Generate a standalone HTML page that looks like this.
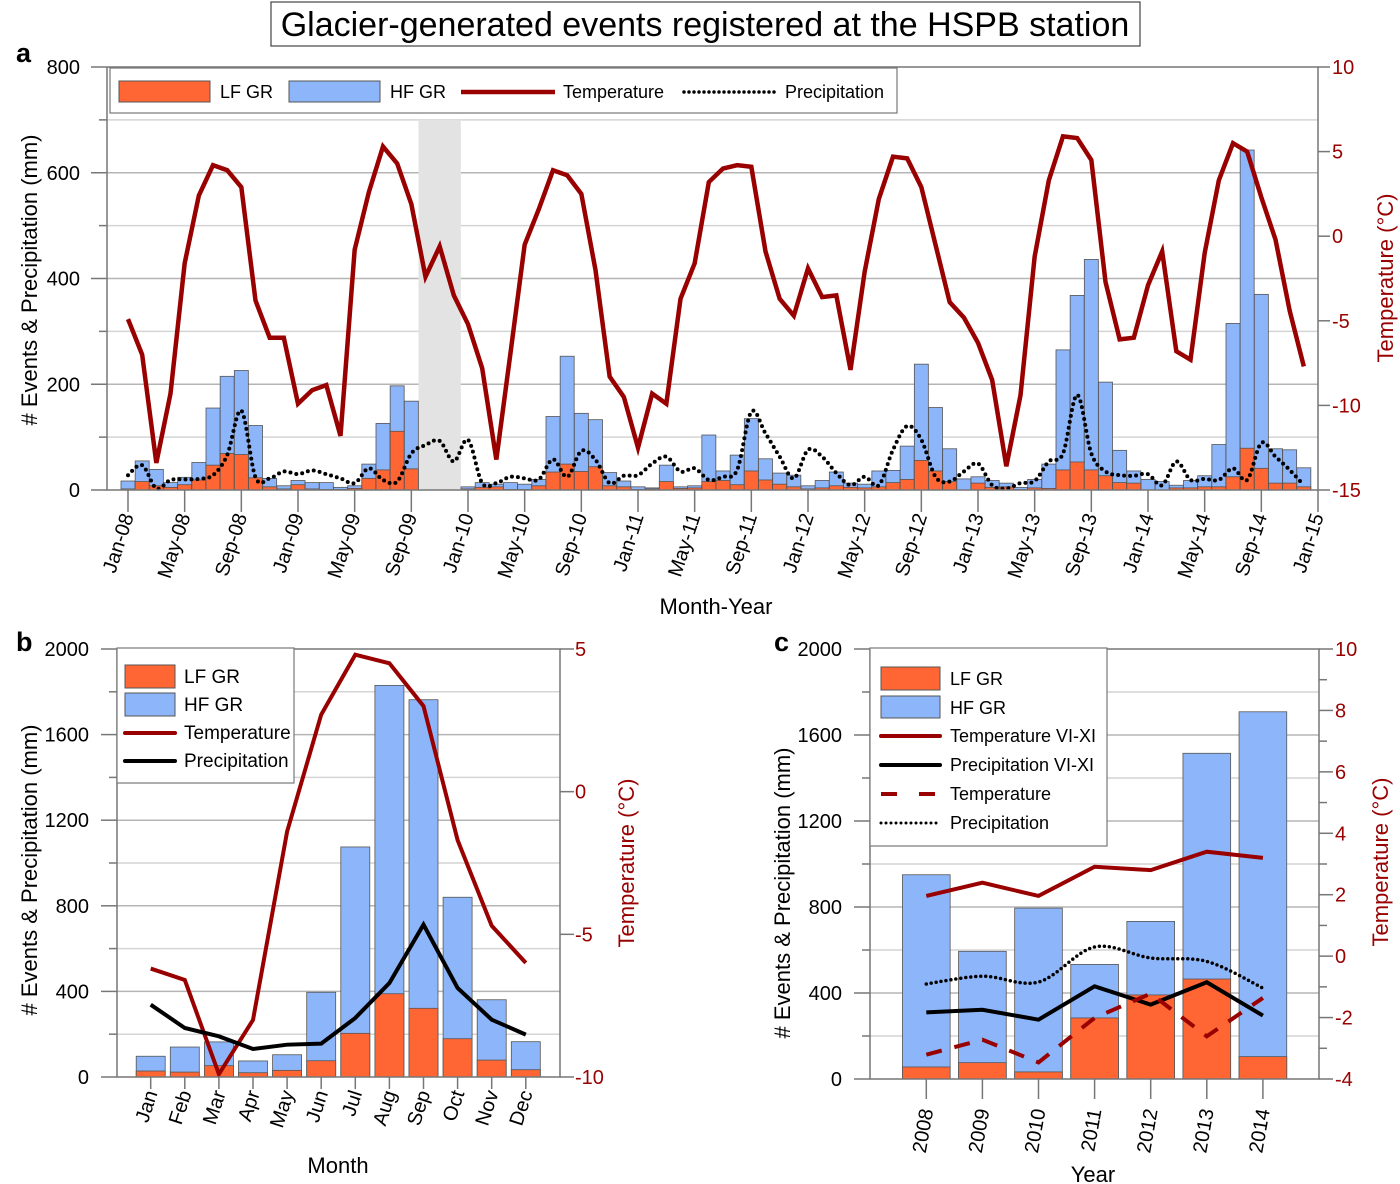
<!DOCTYPE html>
<html><head><meta charset="utf-8"><style>
body{margin:0;background:#fff;}
svg{display:block;font-family:"Liberation Sans",Arial,sans-serif;}
</style></head><body>
<svg id="svg" width="1400" height="1184" viewBox="0 0 1400 1184" xmlns="http://www.w3.org/2000/svg">
<rect x="271" y="2" width="869" height="44" fill="#fff" stroke="#444" stroke-width="1.2"/>
<text x="705" y="36" font-size="34" text-anchor="middle">Glacier-generated events registered at the HSPB station</text>
<text x="16" y="62" font-size="27" font-weight="bold">a</text>
<text x="16" y="651" font-size="27" font-weight="bold">b</text>
<text x="774" y="651" font-size="27" font-weight="bold">c</text>
<g id="ga"></g>
<g id="gb"></g>
<g id="gc"></g>
</svg>
<script>
// ---- Panel a data (Jan-08 .. Dec-14) ----
const monthTickLabels = ["Jan-08","May-08","Sep-08","Jan-09","May-09","Sep-09","Jan-10","May-10","Sep-10","Jan-11","May-11","Sep-11","Jan-12","May-12","Sep-12","Jan-13","May-13","Sep-13","Jan-14","May-14","Sep-14","Jan-15"];
const totalEventsA = [17,55,39,14,24,52,155,215,226,122,22,8, 18,14,14,5,8,49,126,197,168,0,0,0, 6,14,11,14,11,20,139,253,145,133,33,17, 6,4,47,6,8,104,36,66,135,59,32,28, 8,18,34,13,11,36,37,83,238,156,78,21, 25,18,13,5,20,49,265,368,436,204,75,36, 20,16,9,18,27,86,315,643,370,78,76,42];
const lfEventsA = [2,16,8,5,10,19,47,69,67,23,6,2, 10,2,1,1,3,22,38,111,40,0,0,0, 2,5,6,1,1,8,34,49,35,44,8,6, 1,2,16,3,4,16,18,10,36,19,11,6, 2,4,8,5,4,6,14,20,56,36,16,0, 13,5,6,1,4,3,38,53,38,27,14,13, 0,0,4,4,6,6,25,79,41,13,13,6];
const temperatureA = [-4.9,-7.0,-13.4,-9.3,-1.6,2.4,4.2,3.9,2.9,-3.8,-6.0,-6.0, -9.9,-9.1,-8.8,-11.8,-0.8,2.6,5.3,4.3,1.9,-2.4,-0.6,-3.5, -5.2,-7.8,-13.2,-6.9,-0.5,1.6,3.9,3.6,2.5,-2.0,-8.3,-9.5, -12.5,-9.3,-9.9,-3.7,-1.6,3.2,4.0,4.2,4.1,-0.9,-3.7,-4.7, -1.9,-3.6,-3.5,-7.9,-2.1,2.2,4.7,4.6,2.9,-0.5,-3.9,-4.8, -6.3,-8.5,-13.6,-9.4,-1.2,3.3,5.9,5.8,4.5,-2.7,-6.1,-6.0, -2.9,-0.9,-6.8,-7.3,-1.0,3.3,5.5,5.0,2.3,-0.2,-4.4,-7.7];
const precipitationA = [28,47,3,19,20,21,28,66,150,24,22,35, 30,37,30,22,13,41,19,16,69,85,93,54, 95,13,13,25,22,20,58,25,74,57,13,27, 28,50,63,35,41,19,25,38,148,107,63,22, 76,63,32,9,25,9,76,121,95,25,16,35, 50,9,3,13,17,54,69,180,69,35,28,27, 30,9,54,19,21,19,41,19,89,63,38,9];
const gapMonths = [21,22,23];
const leftTicksA = [0,200,400,600,800];
const rightTicksA = [-15,-10,-5,0,5,10];
// ---- Panel b data ----
const monthsB = ["Jan","Feb","Mar","Apr","May","Jun","Jul","Aug","Sep","Oct","Nov","Dec"];
const totalEventsB = [97,140,164,75,104,396,1075,1830,1763,840,361,165];
const lfEventsB = [28,23,53,20,31,76,204,389,321,179,79,34];
const temperatureB = [-6.2,-6.6,-9.9,-8.0,-1.4,2.7,4.8,4.5,3.0,-1.7,-4.7,-6.0];
const precipitationB = [338,229,190,131,151,156,276,439,712,416,268,198];
const leftTicksB = [0,400,800,1200,1600,2000];
const rightTicksB = [-10,-5,0,5];
// ---- Panel c data ----
const yearsC = ["2008","2009","2010","2011","2012","2013","2014"];
const totalEventsC = [950,594,795,533,733,1515,1708];
const lfEventsC = [56,76,33,284,391,465,104];
const tempSummerC = [1.96,2.39,1.96,2.91,2.80,3.40,3.20];
const precipSummerC = [310,322,276,431,346,450,295];
const tempYearC = [-3.21,-2.72,-3.46,-2.01,-1.22,-2.61,-1.36];
const precipYearC = [442,478,451,614,563,547,423];
const leftTicksC = [0,400,800,1200,1600,2000];
const rightTicksC = [-4,-2,0,2,4,6,8,10];

const NS="http://www.w3.org/2000/svg";
const ORANGE="#ff6633", BLUE="#8db5f9", RED="#990000", GRID="#b5b5b5";
function mk(parent,tag,attrs,txt){const e=document.createElementNS(NS,tag);for(const k in attrs)e.setAttribute(k,attrs[k]);if(txt!==undefined)e.textContent=txt;parent.appendChild(e);return e;}
function smoothPath(pts){let d="M"+pts[0][0]+","+pts[0][1];for(let i=0;i<pts.length-1;i++){const p0=pts[Math.max(i-1,0)],p1=pts[i],p2=pts[i+1],p3=pts[Math.min(i+2,pts.length-1)];const c1x=p1[0]+(p2[0]-p0[0])/6,c1y=p1[1]+(p2[1]-p0[1])/6,c2x=p2[0]-(p3[0]-p1[0])/6,c2y=p2[1]-(p3[1]-p1[1])/6;d+=" C"+c1x+","+c1y+" "+c2x+","+c2y+" "+p2[0]+","+p2[1];}return d;}
function linePath(pts){return pts.map((p,i)=>(i?"L":"M")+p[0]+","+p[1]).join(" ");}

// ================= Panel a =================
(function(){
const g=document.getElementById("ga");
const L=107,R=1318,B=490,T=67;
const x=i=>128+i*((R-128)/84);
const y=v=>B-(v/800)*(B-T);
const yt=t=>B-((t+15)/25)*(B-T);
const bw=14;
// grid
for(let v=100;v<=700;v+=100){const l=mk(g,"line",{x1:L,x2:R,y1:y(v),y2:y(v),stroke:v%200?"#d4d4d4":GRID,"stroke-width":1.5});

}
// gap band
const gb=mk(g,"rect",{x:x(gapMonths[0])-bw/2,y:y(700),width:x(gapMonths[gapMonths.length-1])-x(gapMonths[0])+bw,height:B-y(700),fill:"#e3e3e3"});


// bars
totalEventsA.forEach((v,i)=>{
 const b=mk(g,"rect",{x:x(i)-bw/2,y:y(v),width:bw,height:B-y(v),fill:BLUE,stroke:"#555","stroke-width":0.8});
 
 
 const o=mk(g,"rect",{x:x(i)-bw/2,y:y(lfEventsA[i]),width:bw,height:B-y(lfEventsA[i]),fill:ORANGE,stroke:"#555","stroke-width":0.8});
 
 
});
// temperature
const tp=mk(g,"path",{d:linePath(temperatureA.map((t,i)=>[x(i),yt(t)])),fill:"none",stroke:RED,"stroke-width":4.5,"stroke-linejoin":"miter"});


const pp=mk(g,"path",{d:smoothPath(precipitationA.map((p,i)=>[x(i),y(p)])),fill:"none",stroke:"#000","stroke-width":4,"stroke-dasharray":"0 6","stroke-linecap":"round"});


// axes
const ax=mk(g,"path",{d:`M${L},${T} L${L},${B} L${R},${B} L${R},${T} L${L},${T}`,fill:"none",stroke:"#777","stroke-width":1.5});


for(let v=0;v<=800;v+=100){const t=mk(g,"line",{x1:L-(v%200?8:16),x2:L,y1:y(v),y2:y(v),stroke:"#777","stroke-width":1.5});

}
leftTicksA.forEach(v=>{const t=mk(g,"text",{x:80,y:y(v)+7,"font-size":20,"text-anchor":"end"},String(v));

});
rightTicksA.forEach(v=>{const l=mk(g,"line",{x1:R,x2:R+12,y1:yt(v),y2:yt(v),stroke:"#777","stroke-width":1.5});


const t=mk(g,"text",{x:R+14,y:yt(v)+7,"font-size":20,fill:RED},String(v));

});
monthTickLabels.forEach((s,k)=>{const xx=x(k*4);
const l=mk(g,"line",{x1:xx,x2:xx,y1:B,y2:B+22,stroke:"#777","stroke-width":1.5});


const t=mk(g,"text",{x:0,y:0,"font-size":20,"text-anchor":"end",transform:`translate(${xx+6},${B+26}) rotate(-72)`},s);

});
const xt=mk(g,"text",{x:716,y:614,"font-size":22,"text-anchor":"middle"},"Month-Year");


const yl=mk(g,"text",{x:0,y:0,"font-size":22,"text-anchor":"middle",transform:"translate(37,280) rotate(-90)"},"# Events & Precipitation (mm)");


const yr=mk(g,"text",{x:0,y:0,"font-size":22,"text-anchor":"middle",fill:RED,transform:"translate(1393,278) rotate(-90)"},"Temperature (°C)");


// legend
const lg=mk(g,"g",{});


mk(lg,"rect",{x:110,y:68,width:787,height:45,fill:"#fff",stroke:"#777","stroke-width":1.2});
const s1=mk(lg,"rect",{x:119,y:81,width:91,height:21,fill:ORANGE,stroke:"#555"});


mk(lg,"text",{x:220,y:98,"font-size":18},"LF GR");
const s2=mk(lg,"rect",{x:289,y:81,width:91,height:21,fill:BLUE,stroke:"#555"});


mk(lg,"text",{x:390,y:98,"font-size":18},"HF GR");
const s3=mk(lg,"line",{x1:461,x2:555,y1:92,y2:92,stroke:RED,"stroke-width":4.5});


mk(lg,"text",{x:563,y:98,"font-size":18},"Temperature");
const s4=mk(lg,"line",{x1:684,x2:775,y1:92,y2:92,stroke:"#000","stroke-width":3.5,"stroke-dasharray":"0 5","stroke-linecap":"round"});


mk(lg,"text",{x:785,y:98,"font-size":18},"Precipitation");
})();

// ================= Panel b =================
(function(){
const g=document.getElementById("gb");
const L=117,R=560,B=1077,T=649;
const step=34.1, bw=29;
const x=i=>150.7+i*step;
const y=v=>B-(v/2000)*(B-T);
const yt=t=>B-((t+10)/15)*(B-T);
for(let v=200;v<2000;v+=200){const l=mk(g,"line",{x1:L,x2:R,y1:y(v),y2:y(v),stroke:v%400?"#d4d4d4":GRID,"stroke-width":1.5});

}
totalEventsB.forEach((v,i)=>{
 const b=mk(g,"rect",{x:x(i)-bw/2,y:y(v),width:bw,height:B-y(v),fill:BLUE,stroke:"#555","stroke-width":0.8});
 
 
 const o=mk(g,"rect",{x:x(i)-bw/2,y:y(lfEventsB[i]),width:bw,height:B-y(lfEventsB[i]),fill:ORANGE,stroke:"#555","stroke-width":0.8});
 
 
});
const tp=mk(g,"path",{d:linePath(temperatureB.map((t,i)=>[x(i),yt(t)])),fill:"none",stroke:RED,"stroke-width":4});


const pp=mk(g,"path",{d:linePath(precipitationB.map((p,i)=>[x(i),y(p)])),fill:"none",stroke:"#000","stroke-width":4});


const ax=mk(g,"path",{d:`M${L},${T} L${L},${B} L${R},${B} L${R},${T} L${L},${T}`,fill:"none",stroke:"#777","stroke-width":1.5});


for(let v=0;v<=2000;v+=200){const t=mk(g,"line",{x1:L-(v%400?8:16),x2:L,y1:y(v),y2:y(v),stroke:"#777","stroke-width":1.5});

}
leftTicksB.forEach(v=>{const t=mk(g,"text",{x:89,y:y(v)+7,"font-size":20,"text-anchor":"end"},String(v));

});
rightTicksB.forEach(v=>{const l=mk(g,"line",{x1:R,x2:R+14,y1:yt(v),y2:yt(v),stroke:"#777","stroke-width":1.5});


const t=mk(g,"text",{x:R+15,y:yt(v)+7,"font-size":20,fill:RED},String(v));

});
monthsB.forEach((s,i)=>{const xx=x(i);
const l=mk(g,"line",{x1:xx,x2:xx,y1:B,y2:B+12,stroke:"#777","stroke-width":1.5});


const t=mk(g,"text",{x:0,y:0,"font-size":20,"text-anchor":"end",transform:`translate(${xx+7},${B+16}) rotate(-72)`},s);

});
const xt=mk(g,"text",{x:338,y:1173,"font-size":22,"text-anchor":"middle"},"Month");


const yl=mk(g,"text",{x:0,y:0,"font-size":22,"text-anchor":"middle",transform:"translate(37,870) rotate(-90)"},"# Events & Precipitation (mm)");


const yr=mk(g,"text",{x:0,y:0,"font-size":22,"text-anchor":"middle",fill:RED,transform:"translate(634,863) rotate(-90)"},"Temperature (°C)");


const lg=mk(g,"g",{});


mk(lg,"rect",{x:117,y:648,width:177,height:135,fill:"#fff",stroke:"#777","stroke-width":1.2});
const a1=mk(lg,"rect",{x:125,y:665,width:50,height:23,fill:ORANGE,stroke:"#555"});


mk(lg,"text",{x:184,y:683,"font-size":19},"LF GR");
const a2=mk(lg,"rect",{x:125,y:693,width:50,height:23,fill:BLUE,stroke:"#555"});


mk(lg,"text",{x:184,y:711,"font-size":19},"HF GR");
const a3=mk(lg,"line",{x1:125,x2:175,y1:733,y2:733,stroke:RED,"stroke-width":4,"stroke-linecap":"round"});


mk(lg,"text",{x:184,y:739,"font-size":19},"Temperature");
const a4=mk(lg,"line",{x1:125,x2:175,y1:761,y2:761,stroke:"#000","stroke-width":4,"stroke-linecap":"round"});


mk(lg,"text",{x:184,y:767,"font-size":19},"Precipitation");
})();

// ================= Panel c =================
(function(){
const g=document.getElementById("gc");
const L=870,R=1319,B=1079,T=649;
const step=56.1,bw=47.7;
const x=i=>926.3+i*step;
const y=v=>B-(v/2000)*(B-T);
const yt=t=>B-((t+4)/14)*(B-T);
for(let v=200;v<2000;v+=200){const l=mk(g,"line",{x1:L,x2:R,y1:y(v),y2:y(v),stroke:v%400?"#d4d4d4":GRID,"stroke-width":1.5});

}
totalEventsC.forEach((v,i)=>{
 const b=mk(g,"rect",{x:x(i)-bw/2,y:y(v),width:bw,height:B-y(v),fill:BLUE,stroke:"#555","stroke-width":0.8});
 
 
 const o=mk(g,"rect",{x:x(i)-bw/2,y:y(lfEventsC[i]),width:bw,height:B-y(lfEventsC[i]),fill:ORANGE,stroke:"#555","stroke-width":0.8});
 
 
});
const l1=mk(g,"path",{d:linePath(tempSummerC.map((t,i)=>[x(i),yt(t)])),fill:"none",stroke:RED,"stroke-width":4});


const l2=mk(g,"path",{d:linePath(precipSummerC.map((p,i)=>[x(i),y(p)])),fill:"none",stroke:"#000","stroke-width":4});


const l3=mk(g,"path",{d:linePath(tempYearC.map((t,i)=>[x(i),yt(t)])),fill:"none",stroke:RED,"stroke-width":4,"stroke-dasharray":"16 13"});


const l4=mk(g,"path",{d:smoothPath(precipYearC.map((p,i)=>[x(i),y(p)])),fill:"none",stroke:"#000","stroke-width":3.5,"stroke-dasharray":"0 5","stroke-linecap":"round"});


const ax=mk(g,"path",{d:`M${L},${T} L${L},${B} L${R},${B} L${R},${T} L${L},${T}`,fill:"none",stroke:"#777","stroke-width":1.5});


for(let v=0;v<=2000;v+=200){const t=mk(g,"line",{x1:L-(v%400?8:16),x2:L,y1:y(v),y2:y(v),stroke:"#777","stroke-width":1.5});

}
leftTicksC.forEach(v=>{const t=mk(g,"text",{x:842,y:y(v)+7,"font-size":20,"text-anchor":"end"},String(v));

});
for(let v=-4;v<=10;v++){const l=mk(g,"line",{x1:R,x2:R+(v%2?8:14),y1:yt(v),y2:yt(v),stroke:"#777","stroke-width":1.5});

}
rightTicksC.forEach(v=>{const t=mk(g,"text",{x:R+16,y:yt(v)+7,"font-size":20,fill:RED},String(v));

});
yearsC.forEach((s,i)=>{const xx=x(i);
const l=mk(g,"line",{x1:xx,x2:xx,y1:B,y2:B+20,stroke:"#777","stroke-width":1.5});


const t=mk(g,"text",{x:0,y:0,"font-size":20,"text-anchor":"end",transform:`translate(${xx+7},${B+31}) rotate(-80)`},s);

});
const xt=mk(g,"text",{x:1093,y:1182,"font-size":22,"text-anchor":"middle"},"Year");


const yl=mk(g,"text",{x:0,y:0,"font-size":22,"text-anchor":"middle",transform:"translate(790,893) rotate(-90)"},"# Events & Precipitation (mm)");


const yr=mk(g,"text",{x:0,y:0,"font-size":22,"text-anchor":"middle",fill:RED,transform:"translate(1388,862) rotate(-90)"},"Temperature (°C)");


const lg=mk(g,"g",{});


mk(lg,"rect",{x:870,y:648,width:237,height:198,fill:"#fff",stroke:"#777","stroke-width":1.2});
const c1=mk(lg,"rect",{x:881,y:667,width:59,height:23,fill:ORANGE,stroke:"#555"});


mk(lg,"text",{x:950,y:685,"font-size":18},"LF GR");
const c2=mk(lg,"rect",{x:881,y:696,width:59,height:22,fill:BLUE,stroke:"#555"});


mk(lg,"text",{x:950,y:714,"font-size":18},"HF GR");
const c3=mk(lg,"line",{x1:881,x2:940,y1:736,y2:736,stroke:RED,"stroke-width":4,"stroke-linecap":"round"});


mk(lg,"text",{x:950,y:742,"font-size":18},"Temperature VI-XI");
const c4=mk(lg,"line",{x1:881,x2:940,y1:765,y2:765,stroke:"#000","stroke-width":4,"stroke-linecap":"round"});


mk(lg,"text",{x:950,y:771,"font-size":18},"Precipitation VI-XI");
const c5=mk(lg,"line",{x1:881,x2:940,y1:794,y2:794,stroke:RED,"stroke-width":4,"stroke-dasharray":"16 22"});


mk(lg,"text",{x:950,y:800,"font-size":18},"Temperature");
const c6=mk(lg,"line",{x1:881,x2:940,y1:823,y2:823,stroke:"#000","stroke-width":3,"stroke-dasharray":"0 5","stroke-linecap":"round"});


mk(lg,"text",{x:950,y:829,"font-size":18},"Precipitation");
})();
</script>
</body></html>
